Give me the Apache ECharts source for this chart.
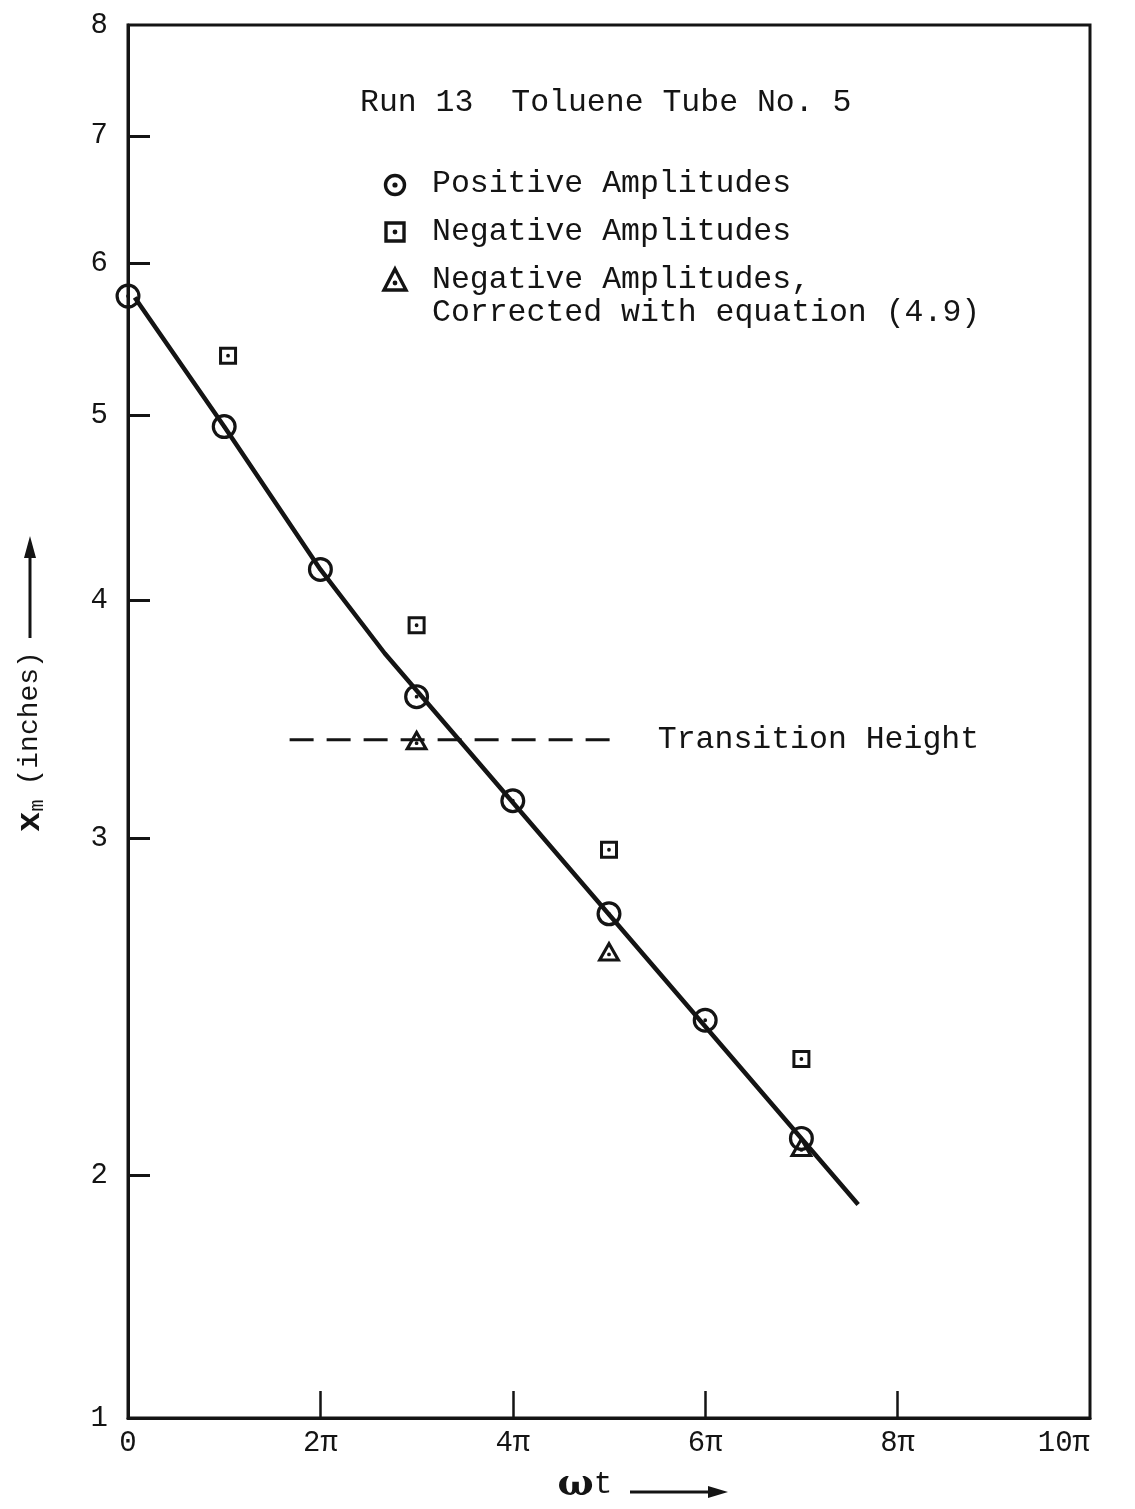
<!DOCTYPE html>
<html>
<head>
<meta charset="utf-8">
<script src="https://cdn.jsdelivr.net/npm/echarts@6/dist/echarts.min.js"></script>
<style>
html, body { margin: 0; padding: 0; background: #ffffff; }
#chart { width: 1135px; height: 1509px; }
</style>
</head>
<body>
<div id="chart"></div>
<script>
// ωt values are stored in multiples of π; amplitudes x_m in inches.
const positiveX = [0, 1, 2, 3, 4, 5, 6, 7];
const positiveAmp = [5.77, 4.93, 4.15, 3.56, 3.14, 2.74, 2.41, 2.09];

const negativeX = [1.04, 3, 5, 7];
const negativeAmp = [5.37, 3.88, 2.96, 2.30];

const correctedX = [3, 5, 7];
const correctedAmp = [3.38, 2.62, 2.07];

// faired curve through the positive amplitudes
const fitX = [0.07, 1, 2, 2.67, 7.59];
const fitAmp = [5.76, 4.93, 4.15, 3.75, 1.93];

// transition height marker
const transitionX = [1.68, 5.06];
const transitionAmp = [3.38, 3.38];

// axes
const xTickValues = [0, 2, 4, 6, 8, 10];
const xTickLabels = ['0', '2π', '4π', '6π', '8π', '10π'];
const yTickValues = [2, 3, 4, 5, 6, 7];
const axisFloor = 1.492;   // the cut-off bottom of the log paper, marked "1"
const axisTop = 8;
const yLabelValues = [axisFloor, 2, 3, 4, 5, 6, 7, 8];
const yLabelText = ['1', '2', '3', '4', '5', '6', '7', '8'];

const ink = '#141414';
const mono = '"Liberation Mono", "DejaVu Sans Mono", monospace';
const lg = Math.log10;

// hollow symbols with a centre dot (outer and inner outlines wound in opposite directions)
const ringPath = 'M12.5,0 A12.5,12.5 0 1,1 12.5,25 A12.5,12.5 0 1,1 12.5,0 Z ' +
  'M12.5,3.2 A9.3,9.3 0 1,0 12.5,21.8 A9.3,9.3 0 1,0 12.5,3.2 Z ' +
  'M12.5,10.6 A1.9,1.9 0 1,1 12.5,14.4 A1.9,1.9 0 1,1 12.5,10.6 Z';
const squarePath = 'M0,0 H18 V18 H0 Z M3,3 V15 H15 V3 Z ' +
  'M9,7.1 A1.9,1.9 0 1,1 9,10.9 A1.9,1.9 0 1,1 9,7.1 Z';
const trianglePath = 'M12,0 L24,21 L0,21 Z M12,6.4 L5.3,18 L18.7,18 Z ' +
  'M12,12.1 A1.9,1.9 0 1,1 12,15.9 A1.9,1.9 0 1,1 12,12.1 Z';

const pairs = (xs, ys) => xs.map((x, i) => [x, lg(ys[i])]);

const chart = echarts.init(document.getElementById('chart'), null, { renderer: 'canvas' });

const textBase = { fontFamily: mono, fontSize: 31.5, color: ink };
const keyText = (text, y) => ({
  type: 'text', x: 432, y: y,
  style: { text: text, fontFamily: mono, fontSize: 31.5, fill: ink, verticalAlign: 'middle', textVerticalAlign: 'middle' }
});
const outline = { fill: 'none', stroke: ink, lineWidth: 3.4 };

chart.setOption({
  backgroundColor: '#ffffff',
  animation: false,
  title: {
    text: 'Run 13  Toluene Tube No. 5',
    left: 355,
    top: 82,
    textStyle: { fontFamily: mono, fontSize: 31.5, fontWeight: 'normal', color: ink }
  },
  grid: {
    left: 128, right: 45, top: 25, bottom: 86,
    show: true, borderColor: ink, borderWidth: 3, backgroundColor: 'transparent'
  },
  xAxis: {
    type: 'value',
    min: 0, max: 10, interval: 2,
    name: '{w|ω}{t|t}',
    nameLocation: 'middle',
    nameGap: 48,
    nameTextStyle: {
      padding: [0, 48, 0, 0],
      rich: {
        w: { fontFamily: '"DejaVu Serif", serif', fontSize: 38, fontWeight: 'bold', color: ink },
        t: { fontFamily: mono, fontSize: 31, color: ink }
      }
    },
    axisLine: { show: true, onZero: false, lineStyle: { color: ink, width: 3 } },
    axisTick: {
      show: true, inside: true, length: 27,
      customValues: xTickValues.slice(1, -1),
      lineStyle: { color: ink, width: 2.5 }
    },
    axisLabel: {
      customValues: xTickValues,
      margin: 11,
      fontFamily: mono, fontSize: 29, color: ink,
      alignMaxLabel: 'right',
      formatter: v => xTickLabels[xTickValues.indexOf(v)]
    },
    splitLine: { show: false }
  },
  yAxis: {
    type: 'value',
    min: lg(axisFloor), max: lg(axisTop),
    name: '{x|x}{m|m}{s| }{n|(inches)}',
    nameLocation: 'middle',
    nameRotate: 90,
    nameGap: 80,
    nameTextStyle: {
      padding: [0, 40, 0, 0],
      rich: {
        x: { fontFamily: mono, fontSize: 34, fontWeight: 'bold', color: ink },
        m: { fontFamily: mono, fontSize: 20, color: ink, padding: [16, 0, 0, 0] },
        s: { fontFamily: mono, fontSize: 28, width: 14 },
        n: { fontFamily: mono, fontSize: 28, color: ink }
      }
    },
    axisLine: { show: true, lineStyle: { color: ink, width: 3 } },
    axisTick: {
      show: true, inside: true, length: 22,
      customValues: yTickValues.map(lg),
      lineStyle: { color: ink, width: 3 }
    },
    axisLabel: {
      customValues: yLabelValues.map(lg),
      margin: 20,
      fontFamily: mono, fontSize: 29, color: ink,
      formatter: v => {
        const i = yLabelValues.findIndex(y => Math.abs(lg(y) - v) < 1e-6);
        return i >= 0 ? yLabelText[i] : '';
      }
    },
    splitLine: { show: false }
  },
  series: [
    {
      name: 'Faired curve',
      type: 'line',
      data: pairs(fitX, fitAmp),
      symbol: 'none',
      lineStyle: { color: ink, width: 4.5 },
      z: 2
    },
    {
      name: 'Transition Height',
      type: 'line',
      data: pairs(transitionX, transitionAmp),
      symbol: 'none',
      lineStyle: { color: ink, width: 3, type: [24, 13] },
      endLabel: {
        show: true,
        formatter: 'Transition Height',
        distance: 43,
        ...textBase
      },
      z: 2
    },
    {
      name: 'Positive Amplitudes',
      type: 'scatter',
      data: pairs(positiveX, positiveAmp),
      symbol: 'path://' + ringPath,
      symbolSize: 25,
      itemStyle: { color: ink, opacity: 1 },
      z: 3
    },
    {
      name: 'Negative Amplitudes',
      type: 'scatter',
      data: pairs(negativeX, negativeAmp),
      symbol: 'path://' + squarePath,
      symbolSize: 18,
      itemStyle: { color: ink, opacity: 1 },
      z: 3
    },
    {
      name: 'Negative Amplitudes, Corrected with equation (4.9)',
      type: 'scatter',
      data: pairs(correctedX, correctedAmp),
      symbol: 'path://' + trianglePath,
      symbolSize: [24, 21],
      itemStyle: { color: ink, opacity: 1 },
      z: 3
    }
  ],
  graphic: [
    // key
    { type: 'circle', shape: { cx: 395, cy: 185, r: 9.5 }, style: outline },
    { type: 'circle', shape: { cx: 395, cy: 185, r: 2.6 }, style: { fill: ink } },
    { type: 'rect', shape: { x: 386, y: 223, width: 18, height: 18 }, style: outline },
    { type: 'circle', shape: { cx: 395, cy: 232, r: 2.4 }, style: { fill: ink } },
    { type: 'polygon', shape: { points: [[395, 269], [406, 290], [384, 290]] }, style: outline },
    { type: 'circle', shape: { cx: 395, cy: 283, r: 2.4 }, style: { fill: ink } },
    keyText('Positive Amplitudes', 184),
    keyText('Negative Amplitudes', 232),
    keyText('Negative Amplitudes,', 280),
    keyText('Corrected with equation (4.9)', 313),
    // axis-name arrows
    { type: 'line', shape: { x1: 30, y1: 638, x2: 30, y2: 552 }, style: { stroke: ink, lineWidth: 3 } },
    { type: 'polygon', shape: { points: [[30, 536], [24, 558], [36, 558]] }, style: { fill: ink } },
    { type: 'line', shape: { x1: 630, y1: 1492, x2: 712, y2: 1492 }, style: { stroke: ink, lineWidth: 3 } },
    { type: 'polygon', shape: { points: [[728, 1492], [708, 1486], [708, 1498]] }, style: { fill: ink } }
  ]
});
</script>
</body>
</html>
